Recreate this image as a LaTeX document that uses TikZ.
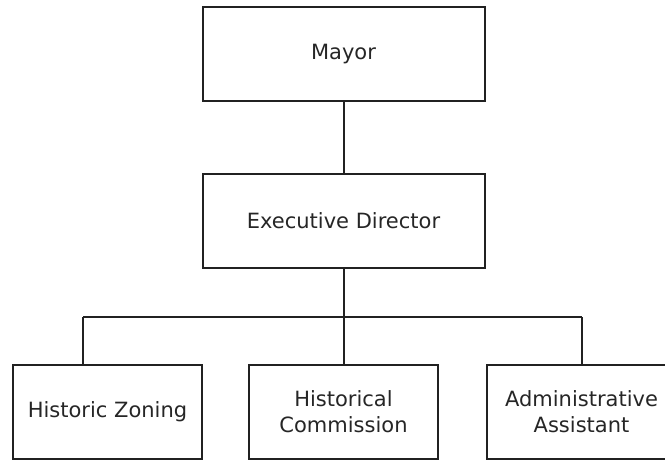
\documentclass[tikz,border=0pt]{standalone}
\usepackage{fontspec}
\setmainfont{DejaVu Sans}
\usepackage{tikz}
\usetikzlibrary{positioning,calc}

\begin{document}
\begin{tikzpicture}[x=1pt,y=-1pt,
    box/.style={draw=black!87,line width=2pt,minimum width=282pt,minimum height=94pt,
      align=center,inner sep=0pt,font=\fontsize{21}{26}\selectfont,text=black!85},
    unitbox/.style={box,minimum width=189pt},
    link/.style={draw=black!87,line width=2pt}]
%Rahmen fest auf 665x460 (Koordinaten wie im Bild, y nach unten)
\useasboundingbox (0,0) rectangle (665,460);
  \pgfmathsetmacro{\busY}{317}
  \pgfmathsetmacro{\busX}{83}
\node[box] (mayor) at (343.5,54.5) {Mayor};
\node[box] (director) at (343.5,220.5) {Executive Director};
\node[unitbox] (zoning) at (107.5,411.5) {Historic Zoning};
\node[unitbox] (commission) at (343.5,411.5) {Historical\\Commission};
\node[unitbox] (assistant) at (581.5,411.5) {Administrative\\Assistant};
%Verteiler
\coordinate (busL) at (\busX,\busY);
\coordinate (busM) at (director.south |- busL);
\coordinate (busR) at (assistant.north |- busL);
\draw[link] (mayor) -- (director);
\draw[link] (director) -- (busM);
\draw[link] (busL) -- (busR);
\draw[link] (busL) -- (busL |- zoning.north);
\draw[link] (busM) -- (commission);
\draw[link] (busR) -- (assistant);
\end{tikzpicture}
\end{document}
